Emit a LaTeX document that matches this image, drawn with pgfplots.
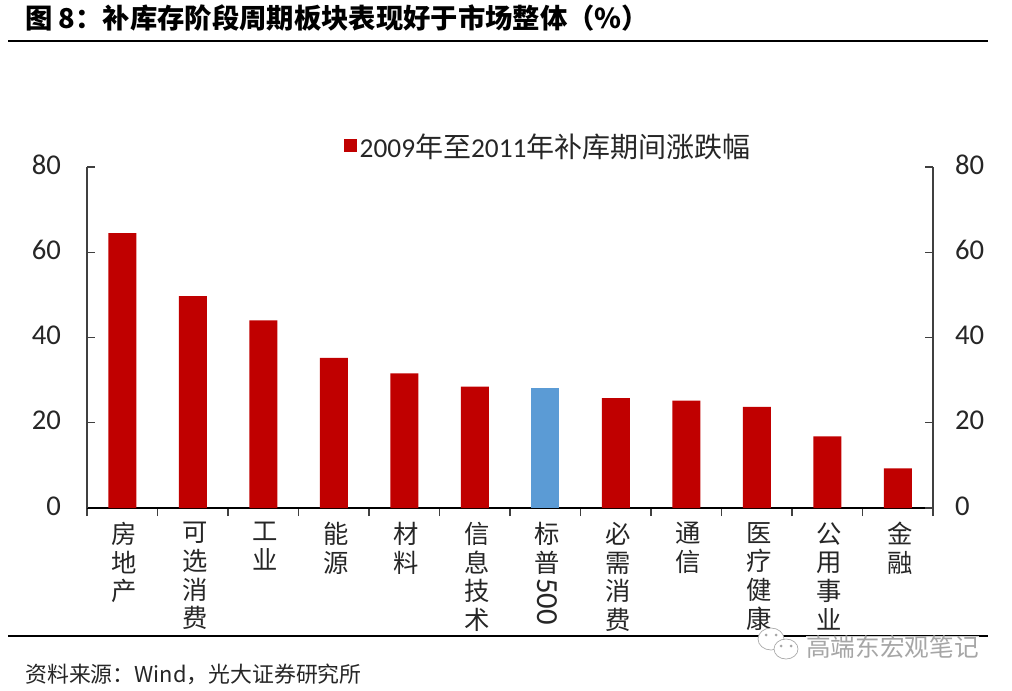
\documentclass[border=0pt]{standalone}
\usepackage{pgfplots}
\usepackage{fontspec}
\pgfplotsset{compat=1.18}
\setmainfont{Noto Sans CJK SC}
\newfontfamily\numfont{Carlito}
\definecolor{barred}{HTML}{C00000}
\definecolor{barblue}{HTML}{5B9BD5}
\definecolor{axgray}{HTML}{404040}
\definecolor{txt}{HTML}{262626}
\begin{document}
\begin{tikzpicture}[x=0.75pt,y=0.75pt]
\path (0,0) rectangle (1012,690);
\begin{axis}[
  at={(87*0.75pt,182*0.75pt)},anchor=south west,
  scale only axis,width=846*0.75pt,height=341*0.75pt,
  xmin=-0.5,xmax=11.5,ymin=0,ymax=80,
  axis y line*=left,axis x line*=bottom,
  axis line style={axgray,line width=1pt,-},
  x axis line style={black,line width=1.3pt},
  ytick={0,20,40,60,80},
  xtick={-0.5,0.5,...,11.5},
  xticklabels={},
  extra x ticks={0,1,2,3,4,5,6,7,8,9,10,11},
  extra x tick style={major tick length=0pt,tick style={draw=none}},
  extra x tick labels={房\\地\\产,可\\选\\消\\费,工\\业,能\\源,材\\料,信\\息\\技\\术,标\\普\\[-17pt]\rotatebox{-90}{\numfont\fontsize{23}{23}\selectfont 500},必\\需\\消\\费,通\\信,医\\疗\\健\\康,公\\用\\事\\业,金\\融},
  x tick label style={align=center,anchor=north,yshift=-10.5pt,xshift=1.5pt,font=\fontsize{19}{21.5}\selectfont,text=txt,inner sep=0pt},
  y tick label style={font=\numfont\fontsize{21.5}{21.5}\selectfont,text=txt},
  /pgf/number format/assume math mode=true,
  yticklabel style={xshift=-16pt,yshift=1.5pt},
  tick align=inside,
  xtick align=outside,
  major tick length=6pt,
  tick style={axgray,line width=1pt},
  ybar,bar width=21pt,bar shift=0pt,
  legend style={draw=none,fill=none,at={(0.5,1)},anchor=south,xshift=29pt,yshift=3.5pt,font=\fontsize{21}{22}\selectfont,text=txt,inner sep=0pt,/tikz/every even column/.style={column sep=3pt}},
  legend image code/.code={\fill[barred] (0cm,-0.13cm) rectangle (0.34cm,0.2cm);},
]
\addplot[fill=barred,draw=none] coordinates {(0,64.5)(1,49.7)(2,44)(3,35.2)(4,31.6)(5,28.5)(7,25.8)(8,25.2)(9,23.7)(10,16.8)(11,9.3)};
\addlegendentry{{\numfont\fontsize{20.5}{22}\selectfont 2009}年至{\numfont\fontsize{20.5}{22}\selectfont 2011}年补库期间涨跌幅}
\addplot[fill=barblue,draw=none,forget plot] coordinates {(6,28.2)};
\end{axis}
\begin{axis}[
  at={(87*0.75pt,182*0.75pt)},anchor=south west,
  scale only axis,width=846*0.75pt,height=341*0.75pt,
  xmin=-0.5,xmax=11.5,ymin=0,ymax=80,
  axis y line*=right,axis x line=none,
  axis line style={axgray,line width=1pt,-},
  ytick={0,20,40,60,80},
  y tick label style={font=\numfont\fontsize{21.5}{21.5}\selectfont,text=txt},
  /pgf/number format/assume math mode=true,
  yticklabel style={xshift=13pt,yshift=1.5pt},
  tick align=inside,major tick length=6pt,
  tick style={axgray,line width=1pt},
]
\addplot[draw=none,forget plot] coordinates {(0,0)};
\end{axis}
% title and rules
\node[anchor=west,inner sep=0pt,text=black] at (25,672) {\fontsize{20.5}{21}\selectfont\bfseries 图 8：补库存阶段周期板块表现好于市场整体（\%）};
\draw[black,line width=1.3pt] (8,649)--(988,649);
\draw[black,line width=1.3pt] (8,54)--(988,54);
\node[anchor=west,inner sep=0pt,text=txt] at (25,16) {\fontsize{16.4}{18}\selectfont 资料来源：Wind，光大证券研究所};
% watermark
\node[anchor=west,inner sep=0pt,text=gray!70,fill=white,fill opacity=0.8,text opacity=1] at (806,43) {\fontsize{18.5}{19}\selectfont 高端东宏观笔记};
\draw[gray!70,fill=white,line width=0.5pt] (771,51) ellipse (13 and 11);
\fill[gray!70] (766,55) circle (1.5) (776,55) circle (1.5);
\draw[gray!70,fill=white,line width=0.5pt] (786,41) ellipse (12 and 10);
\fill[gray!70] (781,44) circle (1.5) (791,44) circle (1.5);
\end{tikzpicture}
\end{document}
